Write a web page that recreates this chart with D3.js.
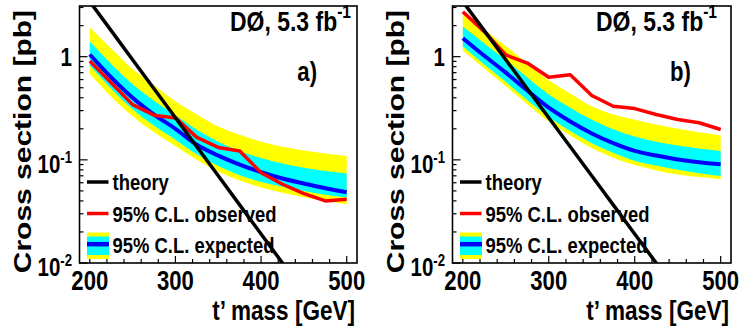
<!DOCTYPE html>
<html lang="en">
<head>
<meta charset="UTF-8">
<title>t' cross section limits</title>
<script src="https://cdn.jsdelivr.net/npm/d3@7/dist/d3.min.js"></script>
<style>
    body { margin: 0; background: #fff; }
    text { font-family: "Liberation Sans", Arial, Helvetica, sans-serif; font-weight: bold; fill: #000; }
</style>
</head>
<body>
<svg id="chart" width="747" height="332"></svg>
<script>
    // masses where the limits were computed (GeV)
    let mass = [200, 225, 250, 275, 300, 325, 350, 375, 400, 425, 450, 475, 500];
    let theoryMass = [200, 225, 250, 275, 300, 325, 350, 375, 400, 425, 450];
    let theory = [3.42, 1.79, 0.935, 0.489, 0.256, 0.134, 0.070, 0.0366, 0.0191, 0.0100, 0.0052];

    // panel a)
    let obsA = [0.91, 0.56, 0.343, 0.271, 0.255, 0.165, 0.132, 0.122, 0.075, 0.058, 0.047, 0.040, 0.0416];
    let expA = [1.05, 0.63, 0.40, 0.275, 0.20, 0.14, 0.11, 0.09, 0.076, 0.066, 0.059, 0.053, 0.0485];
    let up2A = [1.93, 1.2, 0.76, 0.53, 0.37, 0.275, 0.21, 0.175, 0.15, 0.134, 0.123, 0.115, 0.109];
    let up1A = [1.40, 0.85, 0.54, 0.375, 0.27, 0.196, 0.15, 0.122, 0.104, 0.092, 0.084, 0.078, 0.0736];
    let dn1A = [0.82, 0.49, 0.31, 0.215, 0.157, 0.113, 0.087, 0.071, 0.061, 0.055, 0.050, 0.046, 0.0431];
    let dn2A = [0.68, 0.41, 0.265, 0.185, 0.136, 0.10, 0.077, 0.063, 0.054, 0.048, 0.0435, 0.040, 0.0372];

    // panel b)
    let obsB = [2.73, 1.75, 1.04, 0.867, 0.631, 0.669, 0.42, 0.331, 0.314, 0.275, 0.246, 0.229, 0.197];
    let expB = [1.51, 1.02, 0.70, 0.47, 0.32, 0.235, 0.18, 0.145, 0.122, 0.11, 0.101, 0.095, 0.0906];
    let up2B = [2.67, 1.82, 1.27, 0.86, 0.59, 0.44, 0.33, 0.275, 0.245, 0.22, 0.20, 0.185, 0.173];
    let up1B = [1.96, 1.34, 0.93, 0.63, 0.43, 0.32, 0.245, 0.198, 0.168, 0.15, 0.138, 0.129, 0.122];
    let dn1B = [1.26, 0.84, 0.57, 0.38, 0.26, 0.19, 0.145, 0.117, 0.098, 0.088, 0.080, 0.074, 0.0698];
    let dn2B = [1.15, 0.77, 0.52, 0.345, 0.235, 0.172, 0.13, 0.105, 0.089, 0.079, 0.072, 0.068, 0.0648];

    let xTicks = [200, 300, 400, 500];
    let legendLabels = ['theory', '95% C.L. observed', '95% C.L. expected'];

    let svg = d3.select('svg#chart');
    let SX = 0.82; // the original figure is squeezed horizontally

    let panels = [
        {left: 79.5, right: 357, label: 'a)', obs: obsA, exp: expA, up1: up1A, dn1: dn1A, up2: up2A, dn2: dn2A, titleEnd: 351},
        {left: 452.5, right: 731, label: 'b)', obs: obsB, exp: expB, up1: up1B, dn1: dn1B, up2: up2B, dn2: dn2B, titleEnd: 717}
    ];
    let frameTop = 6, frameBottom = 263;

    panels.forEach(function (p, pi) {
        let g = svg.append('g');
        let x = d3.scaleLinear().domain([188, 512]).range([p.left, p.right]);
        let y = d3.scaleLog().domain([0.01, 3.1]).range([frameBottom, frameTop]);

        let clipId = 'clip' + pi;
        g.append('clipPath').attr('id', clipId)
            .append('rect')
            .attr('x', p.left).attr('y', frameTop)
            .attr('width', p.right - p.left).attr('height', frameBottom - frameTop);
        let plot = g.append('g').attr('clip-path', 'url(#' + clipId + ')');

        let rows = mass.map(function (m, i) {
            return {m: m, obs: p.obs[i], exp: p.exp[i], up1: p.up1[i], dn1: p.dn1[i], up2: p.up2[i], dn2: p.dn2[i]};
        });

        let band = function (lo, hi) {
            return d3.area()
                .x(function (d) { return x(d.m); })
                .y0(function (d) { return y(d[lo]); })
                .y1(function (d) { return y(d[hi]); })
                .curve(d3.curveMonotoneX);
        };
        plot.append('path').attr('d', band('dn2', 'up2')(rows)).attr('fill', '#ffff00');
        plot.append('path').attr('d', band('dn1', 'up1')(rows)).attr('fill', '#00ffff');

        let expLine = d3.line()
            .x(function (d) { return x(d.m); })
            .y(function (d) { return y(d.exp); })
            .curve(d3.curveMonotoneX);
        plot.append('path').attr('d', expLine(rows))
            .attr('fill', 'none').attr('stroke', '#0000ff').attr('stroke-width', 4);

        let obsLine = d3.line()
            .x(function (d) { return x(d.m); })
            .y(function (d) { return y(d.obs); });
        plot.append('path').attr('d', obsLine(rows))
            .attr('fill', 'none').attr('stroke', '#ff0000').attr('stroke-width', 3.5)
            .attr('stroke-linejoin', 'round');

        let thLine = d3.line()
            .x(function (d, i) { return x(theoryMass[i]); })
            .y(function (d) { return y(d); });
        plot.append('path').attr('d', thLine(theory))
            .attr('fill', 'none').attr('stroke', '#000').attr('stroke-width', 3.5);

        // frame
        g.append('rect')
            .attr('x', p.left).attr('y', frameTop)
            .attr('width', p.right - p.left).attr('height', frameBottom - frameTop)
            .attr('fill', 'none').attr('stroke', '#000').attr('stroke-width', 1.6);

        // x ticks (inside, pointing up)
        let xt = d3.range(200, 512, 20);
        g.selectAll('line.xt').data(xt).enter().append('line')
            .attr('x1', function (d) { return x(d); }).attr('x2', function (d) { return x(d); })
            .attr('y1', frameBottom)
            .attr('y2', function (d) { return d % 100 === 0 ? frameBottom - 7 : frameBottom - 4; })
            .attr('stroke', '#000').attr('stroke-width', 1.2);
        g.selectAll('text.xl').data(xTicks).enter().append('text')
            .attr('transform', function (d) { return 'translate(' + x(d) + ',289.5) scale(' + SX + ',1)'; })
            .attr('text-anchor', 'middle')
            .style('font-size', '27px')
            .text(function (d) { return d; });

        // y ticks (log, inside)
        let yt = [];
        [0.01, 0.1, 1].forEach(function (dec) {
            for (let k = 1; k < 10; k++) {
                let v = dec * k;
                if (v <= 3.1) yt.push({v: v, major: k === 1});
            }
        });
        g.selectAll('line.yt').data(yt).enter().append('line')
            .attr('x1', p.left)
            .attr('x2', function (d) { return d.major ? p.left + 8 : p.left + 4; })
            .attr('y1', function (d) { return y(d.v); }).attr('y2', function (d) { return y(d.v); })
            .attr('stroke', '#000').attr('stroke-width', 1.2);

        let lx = p.left - 7.5;
        g.append('text')
            .attr('transform', 'translate(' + lx + ',' + (y(1) + 9) + ') scale(' + SX + ',1)')
            .attr('text-anchor', 'end').style('font-size', '25px').text('1');
        [['10', '-1', 0.1], ['10', '-2', 0.01]].forEach(function (l) {
            let t = g.append('text')
                .attr('transform', 'translate(' + lx + ',' + (y(l[2]) + 13) + ') scale(' + SX + ',1)')
                .attr('text-anchor', 'end').style('font-size', '25px');
            t.append('tspan').text(l[0]);
            t.append('tspan').attr('dy', -10).style('font-size', '16px').text(l[1]);
        });

        // axis titles
        g.append('text')
            .attr('transform', 'translate(' + (p.right - 2) + ',320) scale(' + SX + ',1)')
            .attr('text-anchor', 'end').style('font-size', '27.5px')
            .text('t\u2019 mass [GeV]');
        g.append('text')
            .attr('transform', 'translate(' + (p.left - 48.5) + ',10) scale(' + SX + ',1) rotate(-90)')
            .attr('text-anchor', 'end').style('font-size', '30px')
            .text('Cross section [pb]');

        // experiment label
        let lab = g.append('text')
            .attr('transform', 'translate(' + p.titleEnd + ',31) scale(' + SX + ',1)')
            .attr('text-anchor', 'end').style('font-size', '28px');
        lab.append('tspan').text('D\u00d8, 5.3 fb');
        lab.append('tspan').attr('dy', -13).style('font-size', '19px').text('-1');

        g.append('text')
            .attr('transform', 'translate(' + (p.right - 40) + ',81) scale(' + SX + ',1)')
            .attr('text-anchor', 'end').style('font-size', '27px')
            .text(p.label);

        // legend
        let lg = g.append('g').attr('transform', 'translate(' + (p.left + 7.5) + ',0)');
        let rowsY = [182, 213.5, 245];
        lg.append('line').attr('x1', 0).attr('x2', 21.5).attr('y1', rowsY[0]).attr('y2', rowsY[0])
            .attr('stroke', '#000').attr('stroke-width', 3.5);
        lg.append('line').attr('x1', 0).attr('x2', 21.5).attr('y1', rowsY[1]).attr('y2', rowsY[1])
            .attr('stroke', '#ff0000').attr('stroke-width', 3.5);
        lg.append('rect').attr('x', 0).attr('y', 232.5).attr('width', 22).attr('height', 26.5).attr('fill', '#ffff00');
        lg.append('rect').attr('x', 0).attr('y', 236.5).attr('width', 22).attr('height', 18.5).attr('fill', '#00ffff');
        lg.append('line').attr('x1', 0).attr('x2', 22).attr('y1', 244.2).attr('y2', 244.2)
            .attr('stroke', '#0000ff').attr('stroke-width', 4.5);
        lg.selectAll('text.lt').data(legendLabels).enter().append('text')
            .attr('transform', function (d, i) { return 'translate(25.5,' + (rowsY[i] + 8) + ') scale(' + SX + ',1)'; })
            .style('font-size', '22.5px')
            .text(function (d) { return d; });
    });
</script>
</body>
</html>
